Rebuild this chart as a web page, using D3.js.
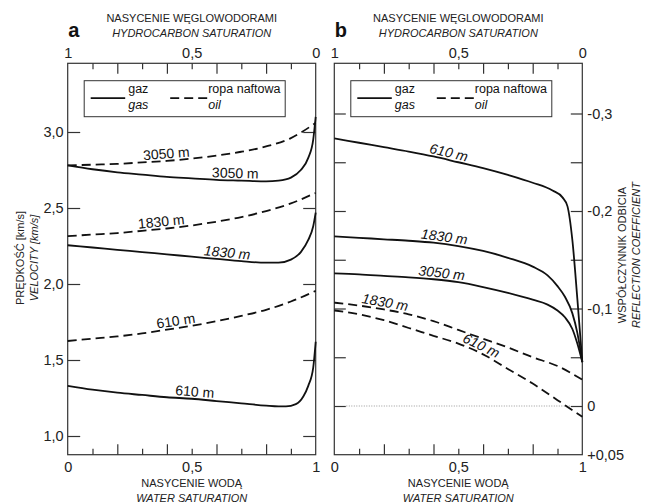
<!DOCTYPE html>
<html lang="pl">
<head>
<meta charset="utf-8">
<title>Velocity and reflection coefficient vs water saturation</title>
<script src="https://cdn.jsdelivr.net/npm/d3@7"></script>
<style>
  body { margin: 0; background: #fff; }
  svg { display: block; font-family: "Liberation Sans", Arial, sans-serif; }
  .frame { fill: none; stroke: #333; stroke-width: 1.2px; }
  .tick line { stroke: #333; stroke-width: 1.2px; }
  .lbl .tick text { fill: #222; font-size: 14.5px; }
  .curve { fill: none; stroke: #111; stroke-width: 1.8px; }
  .oil { stroke-dasharray: 9, 5; }
  .zero { stroke: #999; stroke-width: 1px; stroke-dasharray: 1, 1.5; }
  .title { font-size: 11px; fill: #222; text-anchor: middle; }
  .it { font-style: italic; }
  .clabel { font-size: 14px; fill: #111; text-anchor: middle; }
  .legend text { font-size: 12.5px; fill: #111; }
</style>
</head>
<body>
<svg width="650" height="504"></svg>
<script>
// ---- data ----
// panel a: velocity [km/s] vs water saturation
var velGas3050 = [[0,2.78],[0.1,2.755],[0.2,2.735],[0.3,2.72],[0.4,2.705],[0.5,2.695],[0.6,2.685],[0.7,2.68],[0.8,2.675],[0.85,2.68],[0.9,2.70],[0.94,2.75],[0.97,2.83],[0.99,2.95],[1.0,3.10]];
var velOil3050 = [[0,2.78],[0.1,2.785],[0.2,2.79],[0.3,2.80],[0.4,2.81],[0.5,2.825],[0.6,2.845],[0.7,2.87],[0.8,2.905],[0.9,2.96],[1.0,3.06]];
var velGas1830 = [[0,2.255],[0.1,2.24],[0.2,2.225],[0.3,2.21],[0.4,2.195],[0.5,2.18],[0.6,2.165],[0.7,2.15],[0.8,2.14],[0.85,2.14],[0.9,2.16],[0.94,2.21],[0.97,2.29],[0.99,2.38],[1.0,2.47]];
var velOil1830 = [[0,2.315],[0.1,2.325],[0.2,2.335],[0.3,2.35],[0.4,2.365],[0.5,2.385],[0.6,2.41],[0.7,2.44],[0.8,2.48],[0.9,2.53],[1.0,2.60]];
var velGas610 = [[0,1.33],[0.1,1.305],[0.2,1.285],[0.3,1.27],[0.4,1.255],[0.5,1.245],[0.6,1.23],[0.7,1.215],[0.8,1.20],[0.85,1.195],[0.88,1.195],[0.92,1.21],[0.95,1.26],[0.97,1.33],[0.99,1.45],[1.0,1.62]];
var velOil610 = [[0,1.625],[0.1,1.64],[0.2,1.655],[0.3,1.675],[0.4,1.70],[0.5,1.725],[0.6,1.755],[0.7,1.79],[0.8,1.83],[0.9,1.885],[1.0,1.955]];

// panel b: reflection coefficient vs water saturation
var rcGas610 = [[0,-0.2745],[0.1,-0.270],[0.2,-0.2655],[0.3,-0.261],[0.4,-0.256],[0.5,-0.250],[0.6,-0.244],[0.7,-0.237],[0.8,-0.229],[0.88,-0.221],[0.92,-0.214],[0.94,-0.205],[0.96,-0.17],[0.98,-0.11],[1.0,-0.045]];
var rcGas1830 = [[0,-0.174],[0.1,-0.1725],[0.2,-0.171],[0.3,-0.1695],[0.4,-0.1675],[0.5,-0.164],[0.6,-0.159],[0.7,-0.152],[0.8,-0.143],[0.86,-0.134],[0.9,-0.123],[0.93,-0.112],[0.96,-0.095],[0.98,-0.075],[1.0,-0.045]];
var rcGas3050 = [[0,-0.136],[0.1,-0.135],[0.2,-0.1335],[0.3,-0.132],[0.4,-0.130],[0.5,-0.127],[0.6,-0.122],[0.7,-0.116],[0.8,-0.109],[0.86,-0.104],[0.9,-0.098],[0.93,-0.091],[0.96,-0.079],[0.98,-0.064],[1.0,-0.045]];
var rcOil1830 = [[0,-0.106],[0.1,-0.103],[0.2,-0.099],[0.3,-0.094],[0.4,-0.087],[0.5,-0.078],[0.6,-0.069],[0.7,-0.060],[0.8,-0.050],[0.9,-0.041],[1.0,-0.027]];
var rcOil610 = [[0,-0.098],[0.1,-0.094],[0.2,-0.088],[0.3,-0.080],[0.4,-0.072],[0.5,-0.064],[0.6,-0.053],[0.7,-0.038],[0.8,-0.023],[0.9,-0.006],[1.0,0.011]];

// axis ticks and labels
var satMajor = [0.2, 0.4, 0.6, 0.8];
var satMinor = [0.1, 0.3, 0.5, 0.7, 0.9];
var satLabelVals = [0, 0.5, 1];
var velTicks = [1.0, 1.5, 2.0, 2.5, 3.0];
var rcTicks = [-0.3, -0.25, -0.2, -0.15, -0.1, -0.05, 0];
var rcLabelVals = [-0.3, -0.2, -0.1, 0, 0.05];
var rcLabelText = ["-0,3", "-0,2", "-0,1", "0", "+0,05"];

var svg = d3.select("svg");
var top0 = 63.3, bot0 = 454.7;
var fmt = d3.formatLocale({decimal: ",", thousands: " ", grouping: [3], currency: ["", ""]});

var xa = d3.scaleLinear().domain([0, 1]).range([67.7, 315.7]);
var ya = d3.scaleLinear().domain([1.0, 3.0]).range([436, 132]);
var xb = d3.scaleLinear().domain([0, 1]).range([334.3, 582.3]);
var yb = d3.scaleLinear().domain([0, -0.1]).range([406, 308.5]);

function satFmt(d) { return d === 0.5 ? "0,5" : String(d); }

function inTicks(axisFn, scale, vals, size, tr) {
  var g = svg.append("g").attr("transform", tr)
    .call(axisFn(scale).tickValues(vals).tickSize(size).tickFormat(""));
  g.select(".domain").remove();
  return g;
}

function drawPanel(x, y, letter) {
  var x0 = x.range()[0], x1 = x.range()[1];
  var hx = d3.scaleLinear().domain([1, 0]).range([x0, x1]);  // hydrocarbon saturation

  svg.append("rect").attr("class", "frame")
    .attr("x", x0).attr("y", top0).attr("width", x1 - x0).attr("height", bot0 - top0);

  // inward ticks on top and bottom
  inTicks(d3.axisBottom, x, satMajor, 10.5, "translate(0," + top0 + ")");
  inTicks(d3.axisBottom, x, satMinor, 6, "translate(0," + top0 + ")");
  inTicks(d3.axisTop, x, satMajor, 10.5, "translate(0," + bot0 + ")");
  inTicks(d3.axisTop, x, satMinor, 6, "translate(0," + bot0 + ")");

  var lt = svg.append("g").attr("class", "lbl").attr("transform", "translate(0," + top0 + ")")
    .call(d3.axisTop(hx).tickValues(satLabelVals).tickSize(0).tickPadding(5).tickFormat(satFmt));
  lt.select(".domain").remove();
  var lb = svg.append("g").attr("class", "lbl").attr("transform", "translate(0," + bot0 + ")")
    .call(d3.axisBottom(x).tickValues(satLabelVals).tickSize(0).tickPadding(7).tickFormat(satFmt));
  lb.select(".domain").remove();

  var cx = (x0 + x1) / 2;
  svg.append("text").attr("class", "title").attr("x", cx).attr("y", 22).text("NASYCENIE WĘGLOWODORAMI");
  svg.append("text").attr("class", "title it").attr("x", cx).attr("y", 36.5).text("HYDROCARBON SATURATION");
  svg.append("text").attr("class", "title").attr("x", cx).attr("y", 487).text("NASYCENIE WODĄ");
  svg.append("text").attr("class", "title it").attr("x", cx).attr("y", 501.5).text("WATER SATURATION");

  svg.append("text").attr("x", x0 + 0.5).attr("y", 37)
    .style("font-size", "20px").style("font-weight", "bold").style("fill", "#111")
    .text(letter);

  // legend
  var lg = svg.append("g").attr("class", "legend").attr("transform", "translate(" + (x0 + 16.5) + ",80.7)");
  lg.append("rect").attr("class", "frame").attr("width", 201).attr("height", 36).style("stroke-width", "1px");
  lg.append("line").attr("class", "curve").attr("x1", 6.5).attr("x2", 41).attr("y1", 17.5).attr("y2", 17.5);
  lg.append("text").attr("x", 44).attr("y", 12.5).text("gaz");
  lg.append("text").attr("class", "it").attr("x", 44).attr("y", 28).text("gas");
  lg.append("line").attr("class", "curve oil").attr("x1", 86).attr("x2", 123).attr("y1", 17.5).attr("y2", 17.5);
  lg.append("text").attr("x", 124).attr("y", 12.5).text("ropa naftowa");
  lg.append("text").attr("class", "it").attr("x", 124).attr("y", 28).text("oil");
}

function valueAt(series, s) {
  var i = d3.bisector(function(d) { return d[0]; }).right(series, s);
  i = Math.max(1, Math.min(series.length - 1, i));
  var a = series[i - 1], b = series[i];
  return a[1] + (b[1] - a[1]) * (s - a[0]) / (b[0] - a[0]);
}

function drawCurve(x, y, series, cls) {
  var line = d3.line().x(function(d) { return x(d[0]); }).y(function(d) { return y(d[1]); })
    .curve(d3.curveMonotoneX);
  svg.append("path").datum(series).attr("class", "curve " + cls).attr("d", line);
}

function labelOn(x, y, series, s, text, italic) {
  var px = x(s), py = y(valueAt(series, s));
  var dx = x(s + 0.06) - x(s - 0.06);
  var dy = y(valueAt(series, s + 0.06)) - y(valueAt(series, s - 0.06));
  var ang = Math.atan2(dy, dx) * 180 / Math.PI;
  svg.append("text").attr("class", "clabel" + (italic ? " it" : ""))
    .attr("transform", "translate(" + px + "," + py + ") rotate(" + ang + ")")
    .attr("y", -2.5).text(text);
}

drawPanel(xa, ya, "a");
drawPanel(xb, yb, "b");

// velocity axis (panel a), ticks inward on both sides
inTicks(d3.axisRight, ya, velTicks, 12.5, "translate(" + xa.range()[0] + ",0)");
inTicks(d3.axisLeft, ya, velTicks, 12.5, "translate(" + xa.range()[1] + ",0)");
var vl = svg.append("g").attr("class", "lbl").attr("transform", "translate(" + xa.range()[0] + ",0)")
  .call(d3.axisLeft(ya).tickValues(velTicks).tickSize(0).tickPadding(4).tickFormat(fmt.format(".1f")));
vl.select(".domain").remove();

// reflection coefficient axis (panel b)
inTicks(d3.axisRight, yb, rcTicks, 11.5, "translate(" + xb.range()[0] + ",0)");
inTicks(d3.axisLeft, yb, rcTicks, 11.5, "translate(" + xb.range()[1] + ",0)");
var rl = svg.append("g").attr("class", "lbl").attr("transform", "translate(" + xb.range()[1] + ",0)")
  .call(d3.axisRight(yb).tickValues(rcLabelVals).tickSize(0).tickPadding(5)
    .tickFormat(function(d, i) { return rcLabelText[i]; }));
rl.select(".domain").remove();

// axis titles
svg.append("text").attr("class", "title").attr("transform", "translate(24,258) rotate(-90)").text("PRĘDKOŚĆ [km/s]");
svg.append("text").attr("class", "title it").attr("transform", "translate(37.5,258) rotate(-90)").text("VELOCITY [km/s]");
svg.append("text").attr("class", "title").attr("transform", "translate(626,255) rotate(-90)").text("WSPÓŁCZYNNIK ODBICIA");
svg.append("text").attr("class", "title it").attr("transform", "translate(639.5,255) rotate(-90)").text("REFLECTION COEFFICIENT");

// zero reference line in panel b
svg.append("line").attr("class", "zero")
  .attr("x1", xb(0) + 12).attr("x2", xb(1) - 12).attr("y1", yb(0)).attr("y2", yb(0));

// curves, panel a
drawCurve(xa, ya, velGas3050, "gas");
drawCurve(xa, ya, velOil3050, "oil");
drawCurve(xa, ya, velGas1830, "gas");
drawCurve(xa, ya, velOil1830, "oil");
drawCurve(xa, ya, velGas610, "gas");
drawCurve(xa, ya, velOil610, "oil");

labelOn(xa, ya, velOil3050, 0.40, "3050 m", false);
labelOn(xa, ya, velGas3050, 0.675, "3050 m", false);
labelOn(xa, ya, velOil1830, 0.38, "1830 m", false);
labelOn(xa, ya, velGas1830, 0.64, "1830 m", true);
labelOn(xa, ya, velOil610, 0.44, "610 m", false);
labelOn(xa, ya, velGas610, 0.51, "610 m", false);

// curves, panel b
drawCurve(xb, yb, rcGas610, "gas");
drawCurve(xb, yb, rcGas1830, "gas");
drawCurve(xb, yb, rcGas3050, "gas");
drawCurve(xb, yb, rcOil1830, "oil");
drawCurve(xb, yb, rcOil610, "oil");

labelOn(xb, yb, rcGas610, 0.455, "610 m", true);
labelOn(xb, yb, rcGas1830, 0.44, "1830 m", true);
labelOn(xb, yb, rcGas3050, 0.43, "3050 m", true);
labelOn(xb, yb, rcOil1830, 0.20, "1830 m", true);
labelOn(xb, yb, rcOil610, 0.58, "610 m", true);
</script>
</body>
</html>
